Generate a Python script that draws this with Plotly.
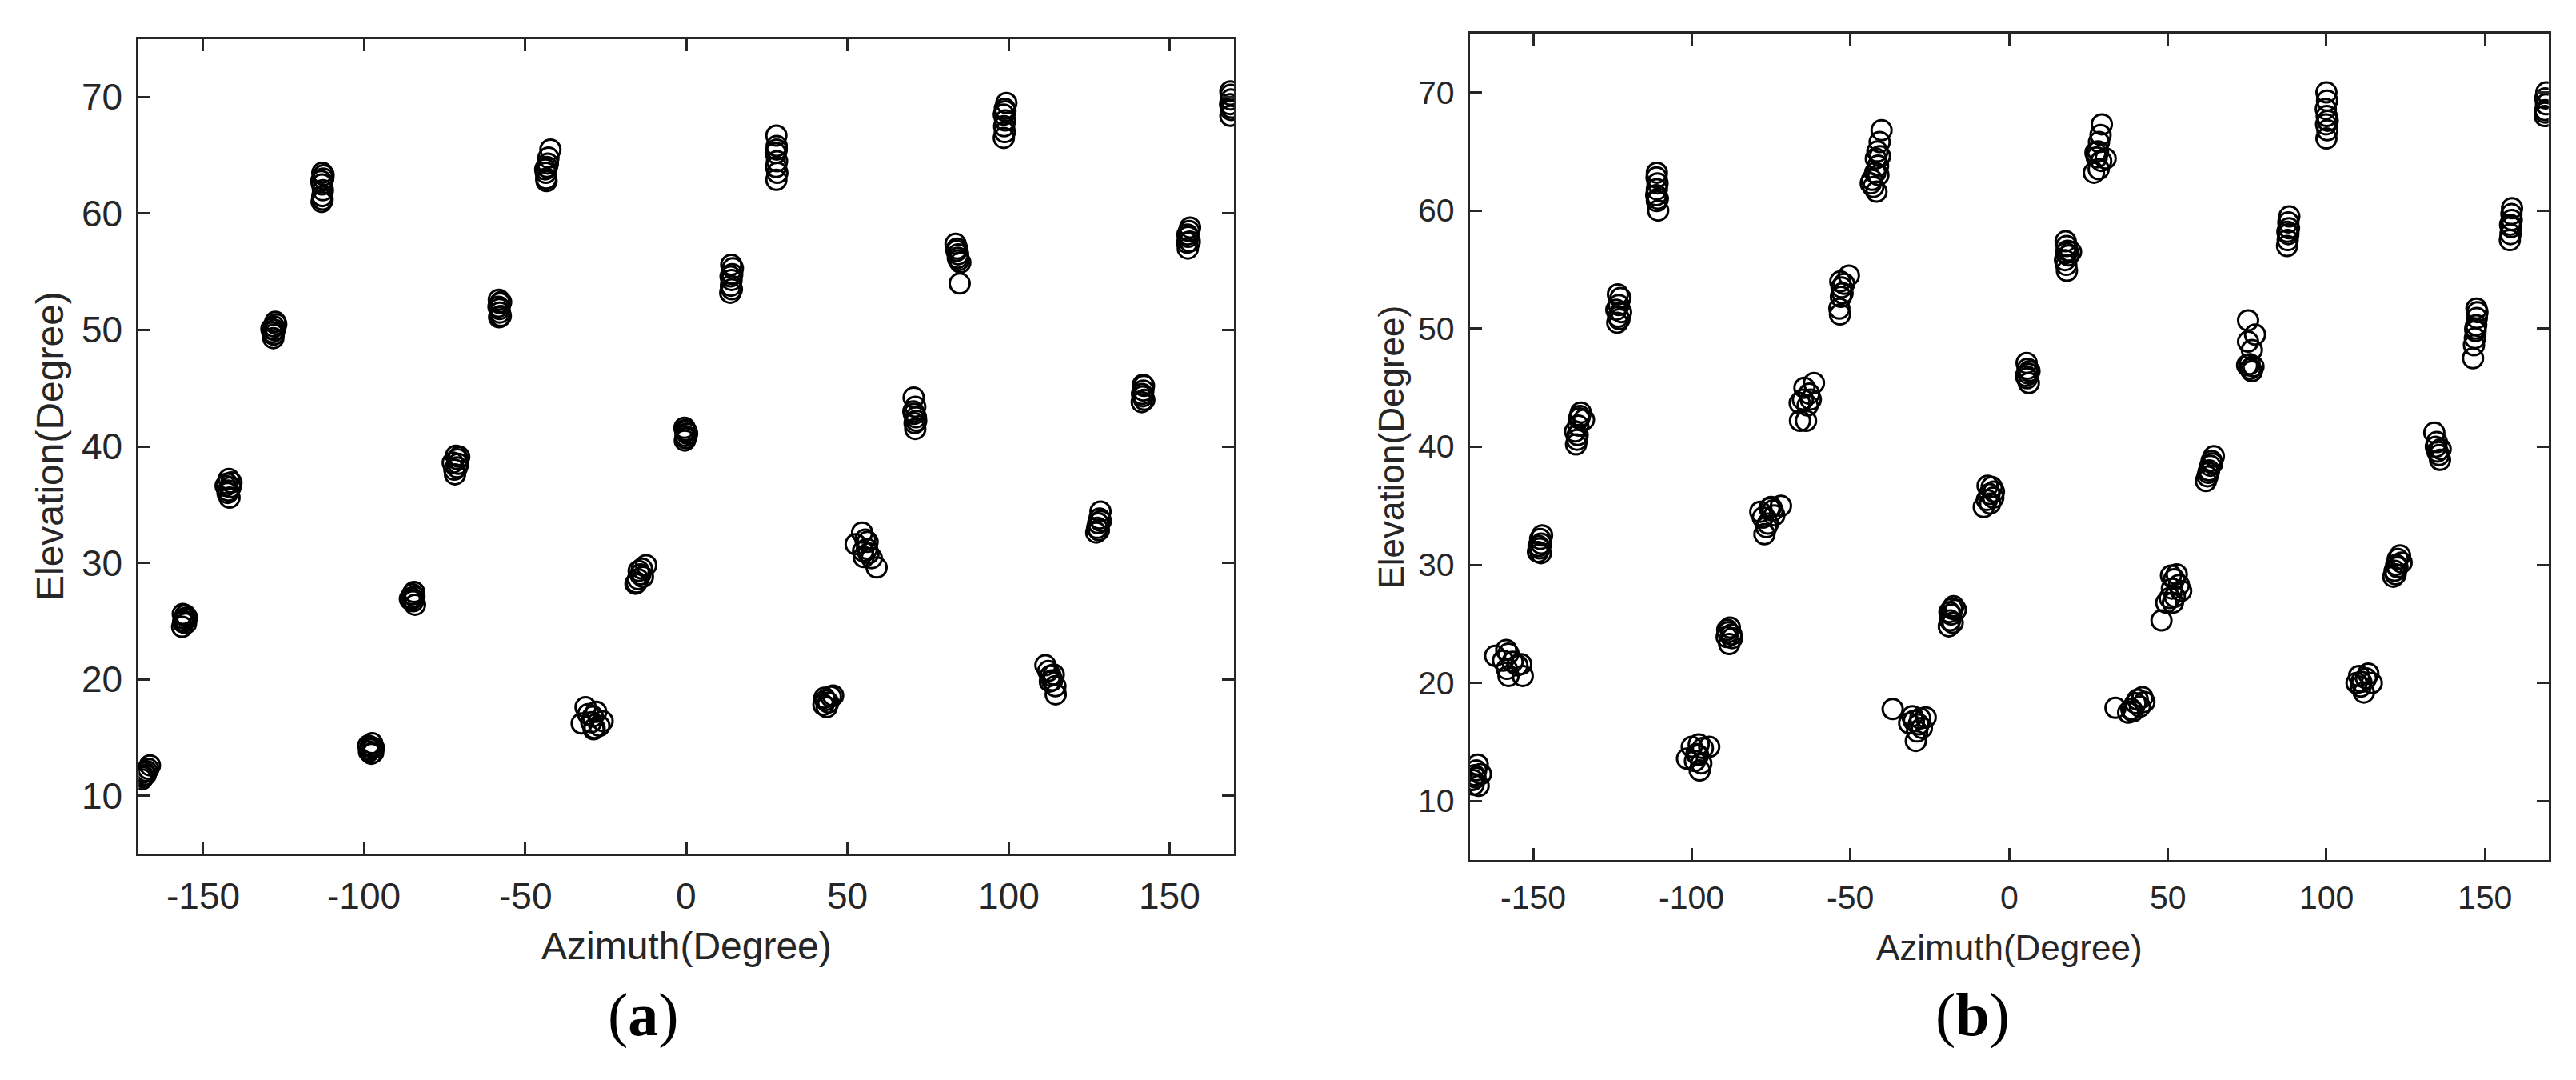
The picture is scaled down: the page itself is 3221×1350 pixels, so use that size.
import plotly.graph_objects as go

# ----------------------------------
# Data: estimated source positions, panel (a)
# one line per cluster
# ----------------------------------
az_a = [
    -169.0, -168.5, -168.2, -167.8, -167.0, -166.5, -168.8, -167.5,
    -156.5, -156.2, -155.8, -155.5, -155.0, -156.0, -155.3, -156.3,
    -142.5, -142.0, -141.5, -142.2, -141.8, -143.0, -141.2, -142.4,
    -128.5, -128.0, -127.6, -128.2, -127.8, -128.8, -127.3, -128.1,
    -113.2, -113.0, -112.8, -113.1, -112.7, -113.0, -112.9, -113.3, -112.6,
    -98.5, -98.0, -97.5, -97.2, -98.2, -97.0, -98.7, -97.8,
    -85.5, -85.0, -84.5, -84.2, -85.3, -84.8, -85.8, -84.4,
    -72.5, -71.5, -71.0, -70.5, -71.8, -71.2, -70.8, -72.0,
    -58.2, -57.8, -58.0, -57.6, -58.3, -57.9, -57.5, -58.1,
    -43.5, -43.6, -43.3, -43.0, -42.2, -43.4, -42.8, -43.8,
    -32.5, -31.3, -30.5, -29.0, -28.5, -28.0, -27.0, -26.0, -29.5, -28.8,
    -15.5, -15.0, -14.3, -13.8, -12.5, -14.8, -13.5, -15.8,
    -0.5, -0.3, 0.0, -0.6, -0.2, 0.2, -0.4,
    13.6, 13.8, 14.0, 14.2, 14.4, 13.9, 14.1, 13.7,
    27.9, 28.0, 27.7, 28.1, 27.8, 28.2, 27.9, 28.0,
    42.5, 43.2, 44.0, 44.8, 45.5, 43.5, 42.8,
    52.5, 54.5, 55.5, 56.0, 55.0, 56.5, 57.5, 59.0, 56.2, 54.8,
    70.5, 71.0, 70.6, 71.2, 70.8, 71.0, 70.4, 71.3,
    83.5, 84.0, 84.3, 84.5, 85.0, 84.2, 83.8, 84.8,
    99.3, 98.8, 98.5, 98.9, 98.6, 98.8, 98.5, 99.0,
    111.4, 112.3, 113.0, 113.5, 114.0, 114.5, 114.6, 112.8,
    127.2, 127.5, 127.8, 128.2, 128.5, 128.0, 128.6,
    141.3, 141.6, 141.8, 142.0, 141.4, 142.1, 141.7,
    155.6, 155.4, 155.7, 156.0, 156.3, 155.5, 156.2,
    168.8, 169.0, 168.7, 169.0, 168.9, 168.8, 169.1,
]
el_a = [
    11.4, 11.7, 12.0, 11.8, 12.3, 12.6, 11.6, 12.1,
    24.5, 24.9, 25.2, 25.5, 25.3, 25.0, 24.8, 25.6,
    36.8, 37.2, 36.5, 36.2, 35.6, 36.6, 36.9, 36.0,
    49.8, 50.3, 50.7, 49.3, 50.0, 50.1, 50.5, 49.6,
    61.0, 61.5, 62.0, 62.5, 63.0, 63.5, 61.2, 62.8, 63.3,
    13.8, 14.2, 14.5, 13.7, 14.0, 14.1, 14.3, 13.6,
    26.8, 27.3, 27.5, 26.4, 27.0, 26.7, 26.9, 27.1,
    38.6, 39.2, 38.9, 39.1, 37.6, 38.2, 38.5, 38.0,
    52.6, 52.3, 51.8, 51.2, 52.0, 51.5, 52.4, 51.1,
    63.0, 63.5, 64.0, 64.3, 65.5, 62.8, 64.8, 63.8,
    16.2, 17.6, 17.0, 16.8, 15.8, 17.2, 16.0, 16.4, 16.3, 15.7,
    28.3, 28.6, 29.0, 29.5, 29.8, 29.3, 28.8, 28.2,
    40.5, 40.9, 41.3, 41.6, 40.7, 41.1, 41.4,
    53.2, 53.8, 54.3, 54.8, 55.3, 55.6, 53.5, 54.6,
    66.7, 65.8, 65.2, 64.5, 64.0, 63.5, 62.9, 65.5,
    17.8, 18.2, 18.0, 18.5, 18.6, 17.6, 18.4,
    31.6, 32.6, 32.0, 31.2, 30.5, 30.8, 30.4, 29.6, 31.8, 31.0,
    44.2, 43.4, 42.8, 42.5, 42.0, 41.5, 43.0, 42.2,
    57.4, 57.0, 56.5, 56.0, 55.8, 56.2, 56.8, 54.0,
    69.5, 69.0, 68.5, 68.0, 67.5, 67.0, 66.5, 68.8,
    21.2, 20.7, 20.3, 19.9, 20.4, 19.4, 18.7, 19.8,
    32.6, 33.0, 33.4, 33.8, 34.4, 32.8, 33.6,
    43.8, 44.3, 44.8, 45.2, 44.5, 44.0, 45.3,
    57.0, 57.5, 58.0, 58.5, 58.8, 58.2, 57.6,
    68.4, 68.9, 69.4, 69.8, 70.2, 70.5, 69.1,
]

# ----------------------------------
# Data: estimated source positions, panel (b)
# ----------------------------------
az_b = [
    -169.0, -168.5, -168.0, -167.5, -168.8, -167.2, -166.5, -168.2,
    -162.0, -158.5, -157.8, -157.8, -158.3, -156.5, -155.0, -153.3, -153.8, -159.5,
    -148.5, -148.0, -147.5, -147.8, -147.2, -148.3, -147.6,
    -136.5, -136.2, -136.8, -135.8, -135.5, -135.0, -134.0, -136.0, -135.3,
    -123.5, -123.2, -123.8, -123.0, -122.5, -123.3, -122.3, -122.8,
    -110.6, -111.0, -111.2, -111.0, -110.8, -111.1, -111.0, -110.7,
    -101.5, -100.0, -98.5, -97.8, -97.0, -97.5, -96.5, -94.5, -99.0, -98.0,
    -89.0, -88.5, -88.0, -87.5, -88.2, -87.3, -88.8,
    -78.4, -77.6, -77.1, -76.0, -75.5, -74.5, -74.0, -71.9, -76.5, -75.0,
    -66.0, -65.9, -65.0, -64.0, -63.5, -63.0, -61.5, -62.5, -64.5,
    -53.3, -53.5, -53.0, -52.8, -53.2, -52.0, -50.5, -52.5,
    -40.2, -40.8, -41.5, -42.0, -41.3, -40.7, -42.2, -43.6, -42.8, -41.8, -41.2, -43.2,
    -36.7, -31.5, -30.5, -29.4, -29.0, -28.5, -27.5, -26.3, -30.0, -28.0,
    -19.0, -18.6, -18.3, -18.0, -17.5, -16.8, -18.8, -17.8,
    -8.0, -7.0, -6.2, -5.5, -6.8, -5.0, -6.0, -4.8,
    5.5, 5.8, 6.0, 5.6, 6.2, 5.3, 6.4,
    17.8, 18.1, 18.4, 18.7, 17.6, 18.0, 18.2, 19.5, 17.9,
    29.2, 28.8, 28.3, 28.0, 27.6, 30.4, 26.7, 28.2, 29.0, 27.2,
    33.5, 37.5, 38.5, 39.8, 40.5, 41.2, 42.0, 42.6, 39.0,
    48.0, 49.5, 50.6, 51.3, 52.0, 51.0, 52.8, 53.5, 54.2, 52.2, 51.6,
    62.0, 62.5, 63.0, 63.4, 63.8, 64.5, 62.8, 64.0,
    75.3, 75.3, 77.5, 76.5, 75.8, 76.0, 76.5, 77.0, 75.0,
    87.6, 87.8, 88.0, 88.2, 88.0, 88.3, 87.7,
    100.0, 100.2, 99.8, 100.1, 99.9, 100.3, 100.0, 100.4,
    109.5, 110.3, 111.0, 111.8, 112.5, 113.2, 114.3, 110.8,
    121.1, 121.5, 122.0, 122.5, 123.2, 123.7, 121.8, 122.4,
    134.0, 134.5, 135.0, 135.5, 135.8, 136.0, 134.8,
    146.2, 146.5, 146.8, 147.0, 147.2, 147.4, 147.6, 147.3, 146.9,
    157.8, 158.0, 158.2, 158.4, 158.3, 158.5, 157.9,
    168.8, 169.0, 169.2, 169.0, 169.3, 168.9,
]
el_b = [
    11.8, 12.2, 12.6, 13.1, 11.4, 11.3, 12.3, 12.0,
    22.3, 22.8, 22.5, 20.6, 21.2, 21.8, 21.5, 20.6, 21.6, 21.9,
    31.1, 31.4, 31.8, 32.2, 32.5, 31.6, 31.0,
    40.2, 40.6, 41.3, 41.8, 42.4, 42.9, 42.3, 41.0, 42.6,
    50.5, 51.0, 51.6, 52.0, 52.6, 52.9, 51.4, 50.8,
    60.0, 60.8, 61.3, 61.8, 62.3, 62.8, 63.2, 61.0,
    13.6, 14.6, 14.0, 14.8, 13.2, 12.6, 14.5, 14.6, 13.4, 13.9,
    23.9, 24.3, 24.7, 24.1, 23.3, 23.8, 24.5,
    34.5, 34.0, 32.6, 33.5, 34.8, 34.6, 34.2, 35.0, 33.2, 34.9,
    43.7, 42.2, 44.0, 42.2, 43.5, 44.5, 45.4, 44.0, 45.0,
    51.2, 51.7, 52.7, 53.5, 54.0, 53.8, 54.5, 53.0,
    66.8, 65.8, 65.0, 64.4, 63.8, 64.6, 63.2, 62.3, 62.0, 61.6, 63.0, 62.6,
    17.8, 16.6, 17.2, 15.1, 15.9, 16.5, 16.2, 17.1, 16.8, 17.0,
    24.8, 25.3, 25.8, 26.3, 26.5, 26.2, 26.0, 25.1,
    34.9, 35.5, 36.0, 36.6, 36.7, 35.7, 35.2, 36.2,
    47.1, 46.6, 46.2, 45.8, 45.4, 46.0, 46.4,
    57.4, 57.0, 56.6, 56.2, 55.8, 55.4, 54.9, 56.5, 56.4,
    67.3, 66.4, 65.8, 65.0, 64.5, 64.4, 63.2, 63.5, 64.2, 64.9,
    17.9, 17.5, 17.8, 18.3, 18.6, 18.0, 18.8, 18.4, 17.6,
    25.3, 26.8, 27.2, 28.0, 28.8, 29.1, 29.2, 28.3, 27.8, 27.3, 26.8,
    37.1, 37.5, 38.0, 38.4, 38.8, 39.2, 37.8, 38.6,
    50.7, 48.9, 49.5, 48.2, 47.0, 46.6, 46.4, 46.8, 46.9,
    57.0, 57.5, 58.0, 58.5, 59.0, 59.5, 58.2,
    70.0, 69.3, 68.6, 68.0, 67.3, 66.8, 66.1, 67.6,
    20.0, 20.6, 20.1, 19.2, 20.4, 20.8, 20.0, 19.7,
    29.0, 29.5, 30.0, 30.5, 30.8, 30.2, 29.2, 29.8,
    41.2, 40.0, 39.6, 39.3, 38.9, 39.8, 40.4,
    47.5, 48.6, 49.2, 49.8, 50.3, 50.9, 51.4, 51.7, 50.0,
    57.5, 58.0, 58.6, 59.2, 59.7, 60.2, 58.8,
    68.0, 68.5, 69.0, 69.5, 70.0, 68.3,
]

x_ticks = [-150, -100, -50, 0, 50, 100, 150]
y_ticks = [10, 20, 30, 40, 50, 60, 70]

INK = "#262626"
SANS = "Liberation Sans, Arial, sans-serif"

# page body keeps the browser's default 8px margin
OFF = 8
W, H = 3221 - 2 * OFF, 1350 - 2 * OFF


def px_x(px):
    return (px - OFF) / W


def px_y(py):
    return 1 - (py - OFF) / H


def axis(domain, ticks, anchor, rng):
    return dict(
        domain=domain,
        range=rng,
        anchor=anchor,
        tickvals=ticks,
        showticklabels=False,
        ticks="inside",
        ticklen=15,
        tickwidth=3,
        tickcolor=INK,
        showline=True,
        linewidth=3,
        linecolor=INK,
        mirror="ticks",
        showgrid=False,
        zeroline=False,
    )


# ----------------------------------
# Panel geometry (screen px): left, right, top, bottom
# ----------------------------------
panels = [
    dict(az=az_a, el=el_a, xa="x", ya="y", box=(173.3, 1543.3, 48.7, 1067.3),
         tick_size=46, title_size=48, xlab_top=1092, ylab_right=155,
         xtitle_y=1182, ytitle_x=63, tag="(<b>a</b>)", tag_x=804),
    dict(az=az_b, el=el_b, xa="x2", ya="y2", box=(1837.7, 3186.7, 41.7, 1075.3),
         tick_size=41, title_size=44, xlab_top=1097, ylab_right=1821,
         xtitle_y=1184, ytitle_x=1739, tag="(<b>b</b>)", tag_x=2466),
]

fig = go.Figure()

for p in panels:
    fig.add_trace(
        go.Scatter(
            x=p["az"],
            y=p["el"],
            xaxis=p["xa"],
            yaxis=p["ya"],
            mode="markers",
            marker=dict(
                symbol="circle-open",
                size=25,
                color="black",
                line=dict(width=3, color="black"),
            ),
            showlegend=False,
        )
    )

l, r, t, b = panels[0]["box"]
l2, r2, t2, b2 = panels[1]["box"]
fig.update_layout(
    width=W,
    height=H,
    margin=dict(l=0, r=0, t=0, b=0),
    paper_bgcolor="white",
    plot_bgcolor="white",
    xaxis=axis([px_x(l), px_x(r)], x_ticks, "y", [-170, 170]),
    yaxis=axis([px_y(b), px_y(t)], y_ticks, "x", [5, 75]),
    xaxis2=axis([px_x(l2), px_x(r2)], x_ticks, "y2", [-170, 170]),
    yaxis2=axis([px_y(b2), px_y(t2)], y_ticks, "x2", [5, 75]),
)

# ----------------------------------
# Tick labels, axis titles, panel tags
# ----------------------------------
for p in panels:
    l, r, t, b = p["box"]
    tick_font = dict(family=SANS, size=p["tick_size"], color=INK)
    title_font = dict(family=SANS, size=p["title_size"], color=INK)

    for v in x_ticks:
        fig.add_annotation(
            text=str(v), x=v, xref=p["xa"], y=px_y(p["xlab_top"]), yref="paper",
            xanchor="center", yanchor="top", showarrow=False, font=tick_font,
        )
    for v in y_ticks:
        fig.add_annotation(
            text=str(v), x=px_x(p["ylab_right"]), xref="paper", y=v, yref=p["ya"],
            xanchor="right", yanchor="middle", showarrow=False, font=tick_font,
        )

    fig.add_annotation(
        text="Azimuth(Degree)", x=px_x((l + r) / 2), y=px_y(p["xtitle_y"]),
        xref="paper", yref="paper", xanchor="center", yanchor="middle",
        showarrow=False, font=title_font,
    )
    fig.add_annotation(
        text="Elevation(Degree)", x=px_x(p["ytitle_x"]), y=px_y((t + b) / 2),
        xref="paper", yref="paper", xanchor="center", yanchor="middle",
        textangle=-90, showarrow=False, font=title_font,
    )
    fig.add_annotation(
        text=p["tag"], x=px_x(p["tag_x"]), y=px_y(1268),
        xref="paper", yref="paper", xanchor="center", yanchor="middle",
        showarrow=False,
        font=dict(family="Liberation Serif, Times New Roman, serif", size=76, color="black"),
    )

fig.write_html("out.html")
